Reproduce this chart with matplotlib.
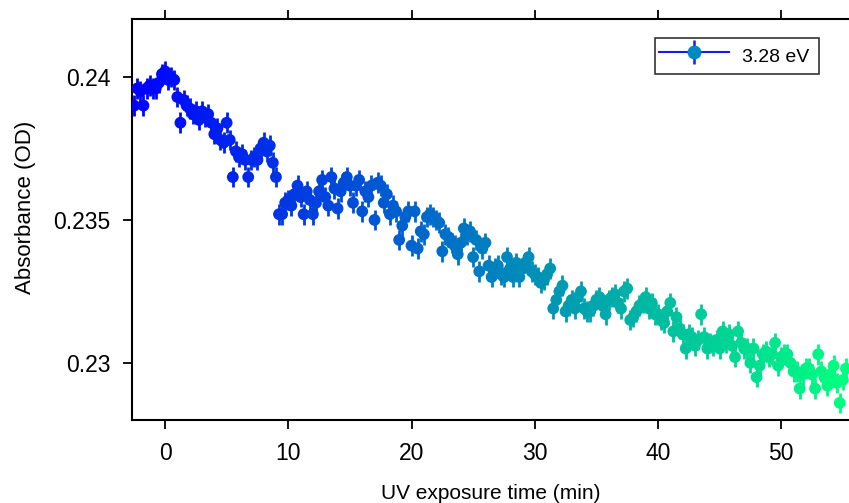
import matplotlib
matplotlib.use('Agg')
import matplotlib.pyplot as plt
import numpy as np
from matplotlib.ticker import FormatStrFormatter
from matplotlib.legend_handler import HandlerErrorbar

plt.rcParams['font.family'] = ['Liberation Sans', 'DejaVu Sans']

# exposure time (min), one sample every 15 s
time_min = np.arange(-2.5, 55.26, 0.25)

absorbance = [
    0.2390, 0.2396, 0.2395, 0.2390, 0.2396, 0.2397, 0.2396, 0.2396,
    0.2398, 0.2401, 0.2402, 0.2399, 0.2400, 0.2399, 0.2393, 0.2384,
    0.2392, 0.2390, 0.2389, 0.2387, 0.2388, 0.2385, 0.2388, 0.2386,
    0.2387, 0.2384, 0.2380, 0.2382, 0.2378, 0.2377, 0.2384, 0.2378,
    0.2365, 0.2374, 0.2372, 0.2373, 0.2371, 0.2365, 0.2371, 0.2372,
    0.2371, 0.2375, 0.2377, 0.2374, 0.2376, 0.2370, 0.2365, 0.2352,
    0.2352, 0.2356, 0.2357, 0.2355, 0.2359, 0.2362, 0.2358, 0.2352,
    0.2360, 0.2357, 0.2352, 0.2356, 0.2360, 0.2364, 0.2358, 0.2355,
    0.2365, 0.2361, 0.2354, 0.2360, 0.2363, 0.2365, 0.2362, 0.2356,
    0.2362, 0.2364, 0.2353, 0.2360, 0.2358, 0.2362, 0.2350, 0.2363,
    0.2362, 0.2356, 0.2359, 0.2352, 0.2355, 0.2353, 0.2343, 0.2348,
    0.2351, 0.2353, 0.2341, 0.2353, 0.2340, 0.2346, 0.2345, 0.2351,
    0.2352, 0.2351, 0.2350, 0.2349, 0.2339, 0.2345, 0.2344, 0.2342,
    0.2341, 0.2338, 0.2342, 0.2347, 0.2345, 0.2346, 0.2337, 0.2343,
    0.2332, 0.2340, 0.2342, 0.2334, 0.2330, 0.2333, 0.2334, 0.2331,
    0.2330, 0.2337, 0.2333, 0.2330, 0.2335, 0.2330, 0.2333, 0.2335,
    0.2337, 0.2332, 0.2331, 0.2330, 0.2328, 0.2329, 0.2331, 0.2333,
    0.2319, 0.2322, 0.2325, 0.2327, 0.2318, 0.2320, 0.2322, 0.2319,
    0.2323, 0.2325, 0.2319, 0.2318, 0.2318, 0.2320, 0.2322, 0.2323,
    0.2320, 0.2317, 0.2322, 0.2323, 0.2324, 0.2321, 0.2319, 0.2325,
    0.2326, 0.2315, 0.2316, 0.2318, 0.2320, 0.2321, 0.2323, 0.2319,
    0.2321, 0.2317, 0.2317, 0.2315, 0.2314, 0.2318, 0.2321, 0.2311,
    0.2316, 0.2312, 0.2310, 0.2305, 0.2310, 0.2309, 0.2306, 0.2308,
    0.2317, 0.2309, 0.2305, 0.2307, 0.2306, 0.2308, 0.2305, 0.2311,
    0.2307, 0.2310, 0.2306, 0.2302, 0.2311, 0.2307, 0.2305, 0.2305,
    0.2300, 0.2305, 0.2295, 0.2299, 0.2303, 0.2304, 0.2302, 0.2303,
    0.2307, 0.2299, 0.2302, 0.2303, 0.2303, 0.2300, 0.2297, 0.2297,
    0.2291, 0.2296, 0.2298, 0.2298, 0.2296, 0.2291, 0.2303, 0.2297,
    0.2295, 0.2292, 0.2296, 0.2299, 0.2293, 0.2286, 0.2294, 0.2298,
]
abs_err = 0.00036

fig = plt.figure(figsize=(8.49, 5.03), dpi=100)
ax = fig.add_axes([132/849, 83/503, 717/849, 401/503])

cmap = plt.get_cmap('winter')
colors = cmap(np.linspace(0, 1, len(time_min)))
y = np.array(absorbance)

ax.vlines(time_min, y - abs_err, y + abs_err, colors=colors, linewidth=2.0, zorder=2)
ax.scatter(time_min, y, c=colors, s=72, linewidths=0, zorder=3)

ax.set_xlim(-2.68, 55.5)
ax.set_ylim(0.2280, 0.24203)
ax.set_xticks([0, 10, 20, 30, 40, 50])
ax.set_yticks([0.23, 0.235, 0.24])
ax.yaxis.set_major_formatter(FormatStrFormatter('%g'))

ax.spines['right'].set_visible(False)
for s in ['left', 'bottom', 'top']:
    ax.spines[s].set_linewidth(1.5)
ax.tick_params(axis='both', direction='out', length=6.5, width=1.3, labelsize=16.5)
ax.tick_params(axis='x', top=True, labeltop=False, pad=9)
ax.tick_params(axis='y', pad=9)

ax.set_xlabel('UV exposure time (min)', fontsize=15, labelpad=14)
ax.set_ylabel('Absorbance (OD)', fontsize=16)
ax.yaxis.set_label_coords(-0.134, 0.53)

# legend proxy: line + marker + vertical error bar
proxy = ax.errorbar([], [], yerr=[], fmt='-o', color='#1a1ae6', linewidth=1.5,
                    markersize=10, markerfacecolor='#0088c4', markeredgewidth=0,
                    ecolor='#1a1ae6', elinewidth=1.8)
leg = ax.legend([proxy], ['3.28 eV '], loc='upper right', fontsize=14,
                frameon=True, fancybox=False, edgecolor='black',
                bbox_to_anchor=(0.958, 0.953), borderaxespad=0,
                handlelength=3.6, handleheight=1.9, borderpad=0.2,
                handletextpad=0.67,
                handler_map={type(proxy): HandlerErrorbar(xerr_size=0.6, yerr_size=0.6)})
leg.get_frame().set_linewidth(1.2)

fig.savefig('out.png', dpi=100)
